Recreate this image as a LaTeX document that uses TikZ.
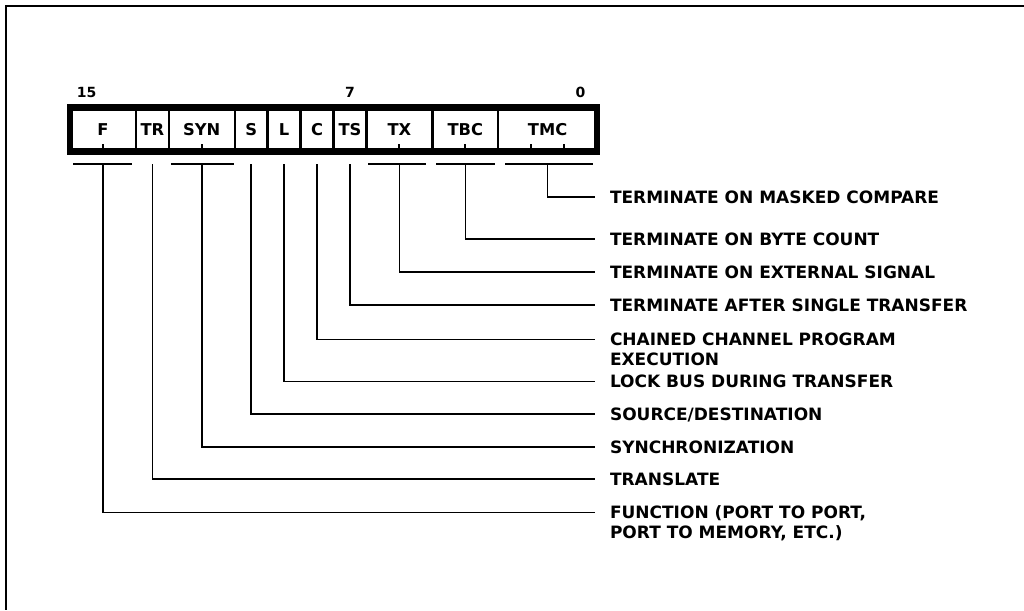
\documentclass[tikz,border=0pt]{standalone}
\usepackage{fontspec}
\setmainfont{DejaVu Sans}
\usetikzlibrary{positioning,calc}
\tikzset{
  field/.style={draw,line width=2.4pt,minimum height=44pt,inner sep=0pt,outer sep=0pt,
    font=\bfseries\fontsize{16.3}{18}\selectfont},
  bitno/.style={inner sep=0pt,font=\bfseries\fontsize{14}{16}\selectfont},
  lbl/.style={anchor=west,inner xsep=15pt,inner ysep=0pt,outer sep=0pt,
    text height=12.4pt,text depth=0pt,font=\bfseries\fontsize{17}{19}\selectfont},
  wire/.style={line width=1.5pt},
}

\begin{document}
\begin{tikzpicture}[x=1pt,y=-1pt]
  \useasboundingbox (0,0) rectangle (1024,610);
  \draw[line width=2pt] (1024,6) -- (6,6) -- (6,610);

  % register, bit 15 on the left
  \node[field,minimum width=2*32.94pt,anchor=north west] (F) at (70,107.5) {F};
  \node[field,minimum width=32.94pt,right=0pt of F] (TR) {TR};
  \node[field,minimum width=2*32.94pt,right=0pt of TR] (SYN) {SYN};
  \node[field,minimum width=32.94pt,right=0pt of SYN] (S) {S};
  \node[field,minimum width=32.94pt,right=0pt of S] (L) {L};
  \node[field,minimum width=32.94pt,right=0pt of L] (C) {C};
  \node[field,minimum width=32.94pt,right=0pt of C] (TS) {TS};
  \node[field,minimum width=2*32.94pt,right=0pt of TS] (TX) {TX};
  \node[field,minimum width=2*32.94pt,right=0pt of TX] (TBC) {TBC};
  \node[field,minimum width=3*32.94pt,right=0pt of TBC] (TMC) {TMC};
  \draw[line width=6.5pt] (F.north west) rectangle (TMC.south east);

  \node[bitno] (n15) at (86.5,92) {15};
  \node[bitno] (n7) at (350,92) {7};
  \node[bitno] (n0) at (580.5,92) {0};

  % bit ticks
  \draw[line width=2pt] (F.south) -- ++(0,-8) (SYN.south) -- ++(0,-8)
    (TX.south) -- ++(0,-8) (TBC.south) -- ++(0,-8)
    ($(TMC.south west)+(32.94,0)$) -- ++(0,-8)
    ($(TMC.south west)+(65.88,0)$) -- ++(0,-8);

  % brackets under the wide fields
  \draw[wire] ($(F.south west)+(3,12.5)$) -- ($(F.south east)+(-4,12.5)$);
  \draw[wire] ($(SYN.south west)+(2,12.5)$) -- ($(SYN.south east)+(-1,12.5)$);
  \draw[wire] ($(TX.south west)+(2,12.5)$) -- ($(TX.south east)+(-6,12.5)$);
  \draw[wire] ($(TBC.south west)+(4,12.5)$) -- ($(TBC.south east)+(-3,12.5)$);
  \draw[wire] ($(TMC.south west)+(7,12.5)$) -- ($(TMC.south east)+(-4,12.5)$);

  \coordinate (bF) at ($(F.south)+(0,12.5)$);
  \coordinate (bTR) at ($(TR.south)+(0,12.5)$);
  \coordinate (bSYN) at ($(SYN.south)+(0,12.5)$);
  \coordinate (bS) at ($(S.south)+(0,12.5)$);
  \coordinate (bL) at ($(L.south)+(0,12.5)$);
  \coordinate (bC) at ($(C.south)+(0,12.5)$);
  \coordinate (bTS) at ($(TS.south)+(0,12.5)$);
  \coordinate (bTX) at ($(TX.south)+(0,12.5)$);
  \coordinate (bTBC) at ($(TBC.south)+(0,12.5)$);
  \coordinate (bTMC) at ($(TMC.south)+(0,12.5)$);

  % field names
  \node[lbl] (lTMC) at (595,197) {TERMINATE ON MASKED COMPARE};
  \node[lbl] (lTBC) at (595,239) {TERMINATE ON BYTE COUNT};
  \node[lbl] (lTX) at (595,272) {TERMINATE ON EXTERNAL SIGNAL};
  \node[lbl] (lTS) at (595,305) {TERMINATE AFTER SINGLE TRANSFER};
  \node[lbl] (lC) at (595,339.5) {CHAINED CHANNEL PROGRAM};
  \node[lbl] (lC2) at ($(lC.west)+(0,19.5)$) {EXECUTION};
  \node[lbl] (lL) at (595,381.5) {LOCK BUS DURING TRANSFER};
  \node[lbl] (lS) at (595,414) {SOURCE/DESTINATION};
  \node[lbl] (lSYN) at (595,447) {SYNCHRONIZATION};
  \node[lbl] (lTR) at (595,479) {TRANSLATE};
  \node[lbl] (lF) at (595,512.5) {FUNCTION (PORT TO PORT,};
  \node[lbl] (lF2) at ($(lF.west)+(0,20)$) {PORT TO MEMORY, ETC.)};

  \draw[wire] (bTMC) |- (lTMC.west);
  \draw[wire] (bTBC) |- (lTBC.west);
  \draw[wire] (bTX) |- (lTX.west);
  \draw[wire] (bTS) |- (lTS.west);
  \draw[wire] (bC) |- (lC.west);
  \draw[wire] (bL) |- (lL.west);
  \draw[wire] (bS) |- (lS.west);
  \draw[wire] (bSYN) |- (lSYN.west);
  \draw[wire] (bTR) |- (lTR.west);
  \draw[wire] (bF) |- (lF.west);
\end{tikzpicture}
\end{document}
